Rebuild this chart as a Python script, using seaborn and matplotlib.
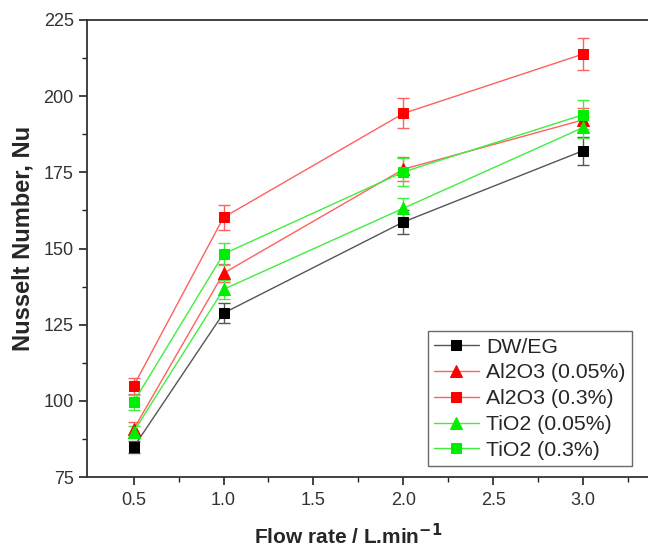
import numpy as np
import pandas as pd
import matplotlib
matplotlib.use("Agg")
import matplotlib.pyplot as plt
import seaborn as sns

flow = [0.5, 1.0, 2.0, 3.0]
series = ["DW/EG", "Al2O3 (0.05%)", "Al2O3 (0.3%)", "TiO2 (0.05%)", "TiO2 (0.3%)"]
dweg = [84.8, 128.8, 158.7, 182.1]
al_005 = [90.7, 141.9, 176.0, 192.2]
al_03 = [104.9, 160.2, 194.3, 213.8]
ti_005 = [89.9, 136.6, 163.2, 189.7]
ti_03 = [99.6, 148.2, 175.1, 193.9]
dweg_err = [2.0, 3.2, 4.0, 4.6]
al_005_err = [2.5, 3.0, 4.0, 4.0]
al_03_err = [2.5, 4.0, 4.9, 5.3]
ti_005_err = [2.0, 3.0, 3.5, 3.5]
ti_03_err = [2.5, 3.5, 4.5, 4.7]
x_ticks = [0.5, 1.0, 1.5, 2.0, 2.5, 3.0]
y_ticks = [75, 100, 125, 150, 175, 200, 225]

values = [dweg, al_005, al_03, ti_005, ti_03]
errors = [dweg_err, al_005_err, al_03_err, ti_005_err, ti_03_err]

rows = []
for name, vals, errs in zip(series, values, errors):
    for f, v, e in zip(flow, vals, errs):
        rows.append({"flow": f, "Nu": v, "err": e, "series": name})
df = pd.DataFrame(rows)

sns.set_style("ticks")
plt.rcParams["font.family"] = ["Liberation Sans", "DejaVu Sans"]

line_colors = {"DW/EG": "#555555", "Al2O3 (0.05%)": "#ff6060", "Al2O3 (0.3%)": "#ff6060",
               "TiO2 (0.05%)": "#40ee40", "TiO2 (0.3%)": "#40ee40"}
marker_colors = {"DW/EG": "#000000", "Al2O3 (0.05%)": "#ff0000", "Al2O3 (0.3%)": "#ff0000",
                 "TiO2 (0.05%)": "#00ee00", "TiO2 (0.3%)": "#00ee00"}
markers = {"DW/EG": "s", "Al2O3 (0.05%)": "^", "Al2O3 (0.3%)": "s",
           "TiO2 (0.05%)": "^", "TiO2 (0.3%)": "s"}
msize = {"s": 7, "^": 9}

fig = plt.figure(figsize=(6.48, 5.51), dpi=100)
fig.patch.set_facecolor("white")
ax = fig.add_axes([0.134, 0.134, 0.866, 0.830])

for name in series:
    sub = df[df["series"] == name]
    ax.errorbar(sub["flow"], sub["Nu"], yerr=sub["err"], fmt="none",
                ecolor=line_colors[name], elinewidth=1.0, capsize=4, capthick=1.0, zorder=2)
    sns.lineplot(data=sub, x="flow", y="Nu", ax=ax, color=line_colors[name], lw=1.0,
                 marker=markers[name], markersize=msize[markers[name]],
                 markerfacecolor=marker_colors[name], markeredgecolor=marker_colors[name],
                 label=name, zorder=3)

ax.set_xlim(0.24, 3.36)
ax.set_ylim(75, 225)
ax.set_xticks(x_ticks)
ax.set_xticklabels([f"{t:.1f}" for t in x_ticks])
ax.set_yticks(y_ticks)
ax.set_xticks([0.75, 1.25, 1.75, 2.25, 2.75, 3.25], minor=True)
ax.set_yticks([87.5, 112.5, 137.5, 162.5, 187.5, 212.5], minor=True)
ax.tick_params(axis="both", which="major", direction="out", length=6, width=1.2,
               labelsize=13, colors="#222222", labelcolor="#333333")
ax.tick_params(axis="x", which="major", pad=5)
ax.tick_params(axis="both", which="minor", direction="out", length=3.5, width=1.0, colors="#222222")
ax.spines["right"].set_visible(False)
for s in ["left", "bottom", "top"]:
    ax.spines[s].set_linewidth(1.3)
    ax.spines[s].set_color("#333333")

ax.set_xlabel("Flow rate / L.min$^{\\mathbf{-1}}$", fontsize=15, fontweight="bold")
ax.set_ylabel("Nusselt Number, Nu", fontsize=17, fontweight="bold")
ax.xaxis.set_label_coords(0.465, -0.100)
ax.yaxis.set_label_coords(-0.094, 0.521)

leg = ax.legend(loc="lower right", bbox_to_anchor=(0.9715, 0.024), borderaxespad=0.0,
                fontsize=15.3, frameon=True, fancybox=False, edgecolor="#444444",
                handlelength=2.1, handletextpad=0.35, labelspacing=0.32, borderpad=0.3)
leg.get_frame().set_linewidth(1.0)

fig.savefig("out.png", dpi=100, facecolor="white")
